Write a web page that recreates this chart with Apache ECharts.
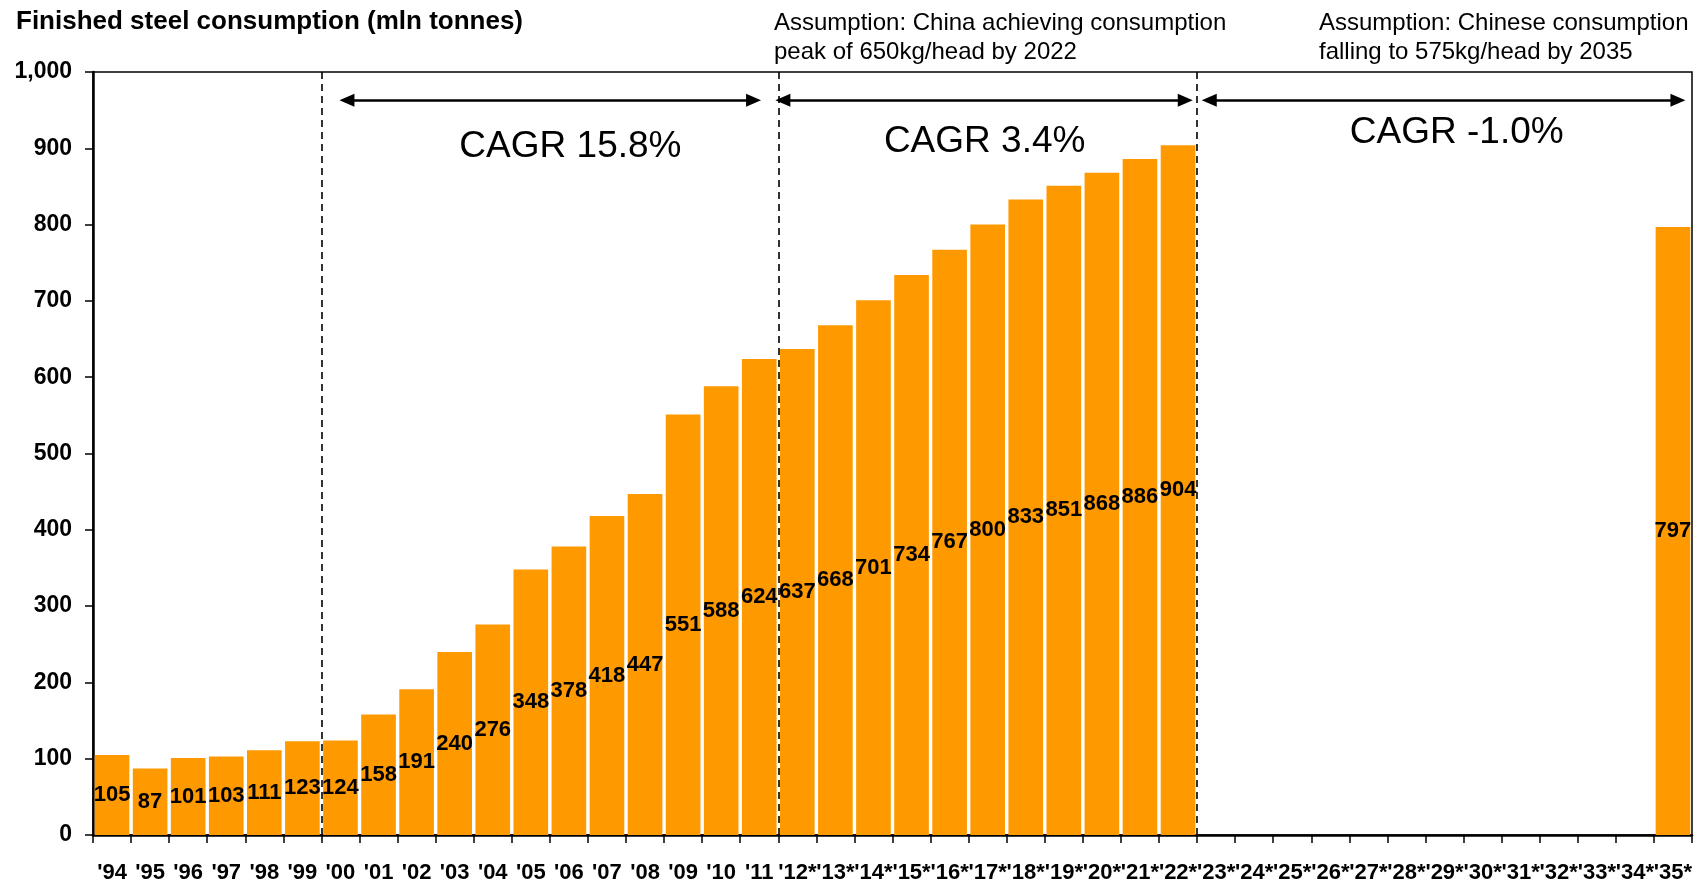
<!DOCTYPE html>
<html>
<head>
<meta charset="utf-8">
<script src="https://cdn.jsdelivr.net/npm/echarts@6/dist/echarts.min.js"></script>
<style>
  html, body { margin: 0; padding: 0; background: #fff; }
  #main { width: 1701px; height: 884px; }
</style>
</head>
<body>
<div id="main"></div>
<script>
// 年份（带*为预测）
var years = ["'94","'95","'96","'97","'98","'99","'00","'01","'02","'03","'04","'05","'06","'07","'08","'09","'10","'11",
  "'12*","'13*","'14*","'15*","'16*","'17*","'18*","'19*","'20*","'21*","'22*",
  "'23*","'24*","'25*","'26*","'27*","'28*","'29*","'30*","'31*","'32*","'33*","'34*","'35*"];
// 消费量 (mln tonnes)
var consumption = [105,87,101,103,111,123,124,158,191,240,276,348,378,418,447,551,588,624,
  637,668,701,734,767,800,833,851,868,886,904,
  null,null,null,null,null,null,null,null,null,null,null,null,797];
// y轴刻度
var yTicks = [0,100,200,300,400,500,600,700,800,900,1000];
// 阶段分隔线（类目边界位置）
var periodBounds = [6, 18, 29];
// 箭头
var arrowStart = [6.67, 18.12, 29.32];
var arrowEnd = [17.35, 28.69, 41.63];
var arrowLevel = 963;
// CAGR 文字
var cagrText = ["CAGR 15.8%", "CAGR 3.4%", "CAGR -1.0%"];
var cagrX = [12.54, 23.42, 35.82];
var cagrY = [902, 909, 920];

var font = "'Liberation Sans', Arial, sans-serif";
var myChart = echarts.init(document.getElementById('main'));

var option = {
  animation: false,
  backgroundColor: '#fff',
  title: [
    {
      text: 'Finished steel consumption (mln tonnes)',
      left: 11, top: 4,
      textStyle: { fontFamily: font, fontSize: 26, fontWeight: 'bold', color: '#000' }
    },
    {
      text: 'Assumption: China achieving consumption\npeak of 650kg/head by 2022',
      left: 769, top: 4,
      textStyle: { fontFamily: font, fontSize: 24, fontWeight: 'normal', color: '#000', lineHeight: 29 }
    },
    {
      text: 'Assumption: Chinese consumption\nfalling to 575kg/head by 2035',
      left: 1314, top: 4,
      textStyle: { fontFamily: font, fontSize: 24, fontWeight: 'normal', color: '#000', lineHeight: 29 }
    }
  ],
  grid: {
    left: 93, right: 9, top: 72, bottom: 49,
    show: true, borderColor: '#000', borderWidth: 1.5
  },
  xAxis: [
    {
      type: 'category',
      data: years,
      axisLine: { lineStyle: { color: '#000', width: 2.5 } },
      axisTick: { show: true, length: 8, lineStyle: { color: '#000', width: 1.5 } },
      axisLabel: {
        interval: 0, margin: 27, color: '#000',
        fontFamily: font, fontSize: 22, fontWeight: 'bold'
      }
    },
    { type: 'value', min: 0, max: years.length, show: false }
  ],
  yAxis: {
    type: 'value',
    min: yTicks[0], max: yTicks[yTicks.length - 1], interval: 100,
    splitLine: { show: false },
    axisLine: { show: true, lineStyle: { color: '#000', width: 2.5 } },
    axisTick: { show: true, length: 8, lineStyle: { color: '#000', width: 1.5 } },
    axisLabel: {
      margin: 21, color: '#000', fontFamily: font, fontSize: 23, fontWeight: 'bold',
      formatter: function (v) { return v.toLocaleString('en-US'); }
    }
  },
  series: [
    {
      type: 'bar',
      data: consumption,
      barCategoryGap: '9%',
      itemStyle: { color: '#FF9900' },
      label: {
        show: true, position: 'inside', color: '#000',
        fontFamily: font, fontSize: 22, fontWeight: 'bold'
      }
    },
    {
      // 分隔虚线
      type: 'line',
      xAxisIndex: 1,
      data: [],
      markLine: {
        silent: true,
        symbol: 'none',
        label: { show: false },
        lineStyle: { color: '#000', width: 1.6, type: [7, 5] },
        data: periodBounds.map(function (b) {
          return [{ coord: [b, 0] }, { coord: [b, 1000] }];
        })
      }
    },
    {
      // 双向箭头
      type: 'line',
      xAxisIndex: 1,
      data: [],
      markLine: {
        silent: true,
        symbol: ['triangle', 'triangle'],
        symbolSize: [13, 15],
        label: { show: false },
        lineStyle: { color: '#000', width: 2.5, type: 'solid' },
        data: arrowStart.map(function (s, i) {
          return [{ coord: [s, arrowLevel] }, { coord: [arrowEnd[i], arrowLevel] }];
        })
      }
    },
    {
      // CAGR 文字
      type: 'scatter',
      xAxisIndex: 1,
      symbolSize: 0,
      silent: true,
      itemStyle: { opacity: 1 },
      data: cagrText.map(function (t, i) { return { name: t, value: [cagrX[i], cagrY[i]] }; }),
      label: {
        show: true, position: 'inside',
        formatter: '{b}',
        color: '#000', fontFamily: font, fontSize: 37
      }
    }
  ]
};
myChart.setOption(option);
</script>
</body>
</html>
